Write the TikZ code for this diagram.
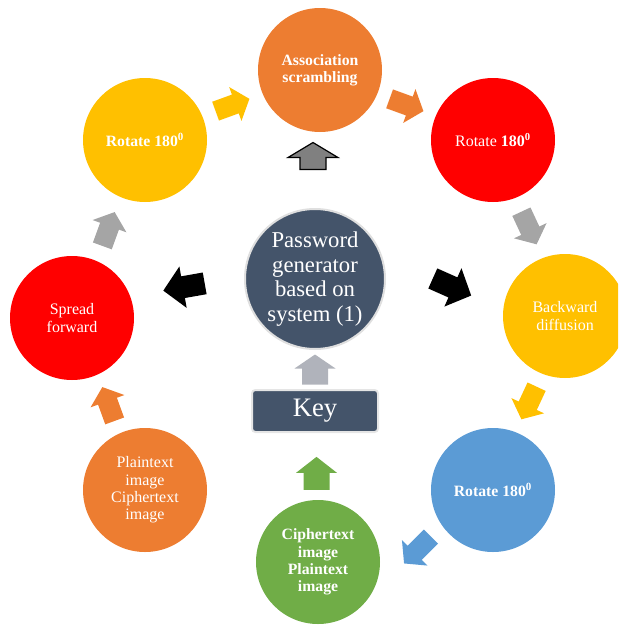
\documentclass[tikz,border=0pt]{standalone}
\usepackage{fontspec}
\setmainfont{Liberation Serif}
\usetikzlibrary{calc}

\definecolor{orng}{HTML}{ED7D31}
\definecolor{gold}{HTML}{FFC000}
\definecolor{redc}{HTML}{FF0000}
\definecolor{bluec}{HTML}{5B9BD5}
\definecolor{grn}{HTML}{70AD47}
\definecolor{grayc}{HTML}{A5A5A5}
\definecolor{slate}{HTML}{44546A}
\definecolor{keygray}{HTML}{B0B3BB}

\tikzset{
  stage/.style={circle,minimum size=93pt,inner sep=0pt,text=white,align=center,
    font=\fontsize{12}{13}\selectfont},
  boldstage/.style={stage,font=\bfseries\fontsize{11.8}{13}\selectfont},
  % fat arrow: length, half shaft, half head, head length
  pics/blockarr/.style n args={4}{code={
    \path[pic actions] ({-#1/2},{-#2}) -- ({#1/2-#4},{-#2}) -- ({#1/2-#4},{-#3})
      -- ({#1/2},0) -- ({#1/2-#4},{#3}) -- ({#1/2-#4},{#2}) -- ({-#1/2},{#2}) -- cycle;
  }},
}

\begin{document}
\begin{tikzpicture}[x=0.75pt,y=-0.75pt]
\clip (0,0) rectangle (618,625);

% ring of stages
\node[boldstage,fill=orng] (assoc) at (320,70) {Association\\scrambling};
\node[stage,fill=redc] (rotB) at (493,140) {Rotate \textbf{180\textsuperscript{0}}};
\node[stage,fill=gold] (backw) at (565,316) {Backward\\diffusion};
\node[boldstage,fill=bluec] (rotC) at (493,490) {Rotate 180\textsuperscript{0}};
\node[boldstage,fill=grn] (cipher) at (318,562) {Ciphertext\\image\\Plaintext\\image};
\node[stage,fill=orng] (plain) at (145,490) {Plaintext\\image\\Ciphertext\\image};
\node[stage,fill=redc] (spread) at (72,318) {Spread\\forward};
\node[boldstage,fill=gold] (rotA) at (145,140) {Rotate 180\textsuperscript{0}};

% generator and key
\node[circle,minimum size=105pt,inner sep=0pt,fill=slate,draw=gray!25,line width=1.5pt,
  text=white,align=center,font=\fontsize{17}{18.4}\selectfont] (hub) at (315,279)
  {Password\\generator\\based on\\system (1)};
\node[rectangle,minimum width=94.5pt,minimum height=31.5pt,rounded corners=2.5pt,fill=slate,
  draw=gray!20,line width=1.5pt,text=white,font=\fontsize{20}{22}\selectfont] (key) at (315,411) {Key};

% arrows round the ring
\pic[fill=gold,rotate=20] at ($(rotA)!0.5!(assoc)$) {blockarr={36}{10}{18}{15}};
\pic[fill=orng,rotate=-20] at ($(assoc)!0.5!(rotB)$) {blockarr={36}{10}{18}{15}};
\pic[fill=grayc,rotate=-65] at ($(rotB)!0.5!(backw)$) {blockarr={36}{10}{18}{15}};
\pic[fill=gold,rotate=-115] at ($(backw)!0.5!(rotC)$) {blockarr={36}{10}{18}{15}};
\pic[fill=bluec,rotate=-135] at ($(rotC)!0.5!(cipher)+(12,24)$) {blockarr={38}{10}{18}{15}};
\pic[fill=orng,rotate=110] at ($(plain)!0.5!(spread)$) {blockarr={36}{10}{18}{15}};
\pic[fill=grayc,rotate=70] at ($(spread)!0.5!(rotA)$) {blockarr={36}{10}{18}{15}};

% arrows out of the generator
\pic[fill=black,rotate=190] at ($(hub)+(-131,8)$) {blockarr={42}{11}{21}{20}};
\pic[fill=black,rotate=-24] at ($(hub)+(137,8)$) {blockarr={42}{11}{21}{20}};
\pic[fill=gray,draw=black,line width=0.9pt,rotate=90] at ($(hub.north)+(-2,-52)$) {blockarr={27}{13}{25}{15}};

% key feeds
\pic[fill=keygray,rotate=90] at ($(key.north)!0.5!(hub.south)$) {blockarr={30}{13}{20.5}{14}};
\pic[fill=grn,rotate=90] at ($(cipher.north)!0.5!(key.south)+(0,7)$) {blockarr={33}{13}{20.5}{16}};
\end{tikzpicture}
\end{document}
